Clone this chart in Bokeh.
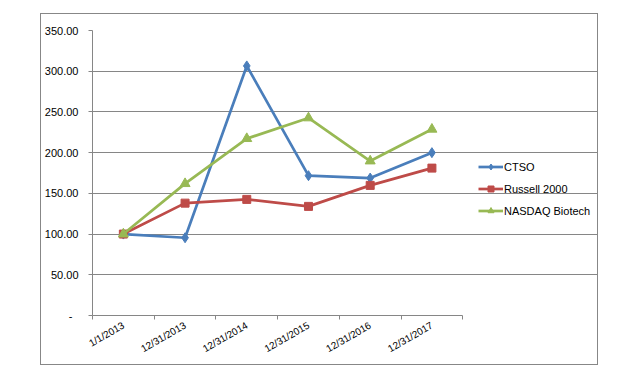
import math
from bokeh.plotting import figure
from bokeh.models import (FixedTicker, Range1d, Legend, LegendItem, PrintfTickFormatter)
from bokeh.embed import file_html
from bokeh.resources import INLINE

dates = ["1/1/2013", "12/31/2013", "12/31/2014", "12/31/2015", "12/31/2016", "12/31/2017"]
ctso = [100.0, 95.5, 306.5, 171.7, 168.8, 200.0]
russell = [100.0, 138.0, 142.6, 134.0, 159.8, 181.0]
nasdaq = [100.0, 161.9, 217.2, 242.6, 189.7, 228.7]
y_ticks = [0, 50, 100, 150, 200, 250, 300, 350]

FONT = "Liberation Sans"
GRID = "#868686"
C_BLUE = "#4A7EBB"
C_RED = "#BE4B48"
C_GREEN = "#98B954"

W, H = 558, 352
BL, BR, BT, BB = 50, 2, 16, 51
AXIS_PX = 371  # pixel width of the category axis
n = len(dates)
frame_w = W - BL - BR
x_end = n * frame_w / AXIS_PX

xs = [i + 0.5 for i in range(n)]

p = figure(width=W, height=H, output_backend="svg", toolbar_location=None,
           x_range=Range1d(0, x_end), y_range=Range1d(0, 350),
           min_border_left=BL, min_border_right=BR, min_border_top=BT, min_border_bottom=BB,
           margin=(13, 0, 0, 40),
           styles={"border": "1px solid #878787"})
p.outline_line_color = None
p.background_fill_color = "white"
p.border_fill_color = "white"

# y axis
p.yaxis.ticker = FixedTicker(ticks=y_ticks)
p.yaxis.formatter = PrintfTickFormatter(format="%.2f")
p.yaxis.major_label_overrides = {0: "-\u00a0\u00a0"}
p.yaxis.axis_line_color = GRID
p.yaxis.major_tick_line_color = GRID
p.yaxis.major_tick_out = 4
p.yaxis.major_tick_in = 0
p.yaxis.minor_tick_line_color = None
p.yaxis.major_label_standoff = 10
p.yaxis.major_label_text_font = FONT
p.yaxis.major_label_text_font_size = "11px"
p.yaxis.major_label_text_color = "#000000"

# x axis: labels at centers, ticks at category boundaries
p.xaxis.bounds = (0, n)
p.xaxis.ticker = FixedTicker(ticks=xs, minor_ticks=list(range(n + 1)))
p.xaxis.major_label_overrides = {x: d for x, d in zip(xs, dates)}
p.xaxis.axis_line_color = GRID
p.xaxis.major_tick_line_color = None
p.xaxis.major_tick_out = 6
p.xaxis.minor_tick_line_color = GRID
p.xaxis.minor_tick_out = 4
p.xaxis.minor_tick_in = 0
p.xaxis.major_label_orientation = math.radians(30)
p.xaxis.major_label_standoff = 3
p.xaxis.major_label_text_font = FONT
p.xaxis.major_label_text_font_size = "10px"
p.xaxis.major_label_text_color = "#000000"

p.xgrid.grid_line_color = None
p.ygrid.ticker = FixedTicker(ticks=y_ticks)
p.ygrid.bounds = (0, n)
p.ygrid.grid_line_color = GRID
p.ygrid.grid_line_width = 1

lw = 2.7
l1 = p.line(xs, ctso, line_color=C_BLUE, line_width=lw)
m1 = p.scatter(xs, ctso, marker="diamond", size=10, fill_color=C_BLUE, line_color=C_BLUE)
l2 = p.line(xs, russell, line_color=C_RED, line_width=lw)
m2 = p.scatter(xs, russell, marker="square", size=8, fill_color=C_RED, line_color=C_RED)
l3 = p.line(xs, nasdaq, line_color=C_GREEN, line_width=lw)
m3 = p.scatter(xs, nasdaq, marker="triangle", size=10, fill_color=C_GREEN, line_color=C_GREEN)

legend = Legend(items=[LegendItem(label="CTSO", renderers=[l1, m1]),
                       LegendItem(label="Russell 2000", renderers=[l2, m2]),
                       LegendItem(label="NASDAQ Biotech", renderers=[l3, m3])],
                location=(386, 97), orientation="vertical",
                glyph_width=25, glyph_height=15, label_height=15, spacing=7,
                label_standoff=1, padding=0, margin=0,
                border_line_color=None, background_fill_alpha=0,
                label_text_font=FONT, label_text_font_size="11px", label_text_color="#000000")
p.add_layout(legend, "center")

open("out.html", "w").write(file_html(p, INLINE))
